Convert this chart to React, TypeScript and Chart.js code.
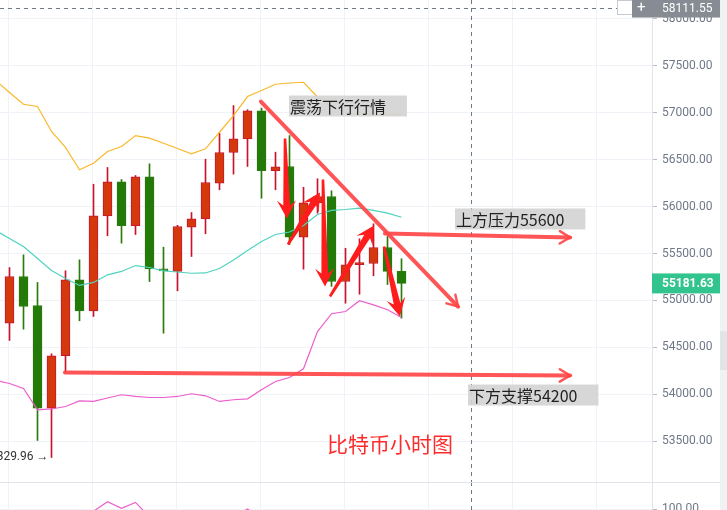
import React, { useEffect, useRef } from "react";
import { Chart, registerables } from "chart.js";

Chart.register(...registerables);

// ---- candle data (hourly BTC), index 0..28 ----
const OPEN = [54760, 55255, 54947, 53854, 54412, 55220, 54890, 55901, 56263, 55795, 56316, 55337, 55309, 55780, 55869, 56248, 56575, 56720, 57018, 56380, 56426, 55673, 56039, 56106, 55202, 55380, 55394, 55564, 55309];
const HIGH = [55350, 55486, 55192, 54433, 55316, 55433, 56237, 56415, 56287, 56330, 56454, 55567, 55800, 55936, 56503, 56780, 57074, 57030, 57046, 56578, 56755, 56205, 56295, 56167, 55556, 55656, 55816, 55681, 55444];
const LOW = [54575, 54695, 53511, 53329.96, 54234, 54784, 54830, 55688, 55610, 55702, 55202, 54652, 55103, 55468, 55710, 56178, 56344, 56426, 56088, 56178, 55596, 55333, 55929, 55150, 54971, 55067, 55263, 55170, 54812];
const CLOSE = [55255, 54936, 53854, 54412, 55220, 54890, 55901, 56263, 55795, 56316, 55337, 55316, 55787, 55869, 56255, 56575, 56720, 57018, 56380, 56422, 55673, 56039, 56106, 55202, 55380, 55404, 55564, 55309, 55181.63];

// ---- Bollinger bands, index -1..28 (first value is the bar just left of the view) ----
const BAND_START = -1;
const UPPER = [57343, 57213, 57088, 57064, 56798, 56628, 56390, 56461, 56585, 56638, 56755, 56727, 56673, 56617, 56561, 56614, 56790, 56968, 57170, 57234, 57301, 57314, 57322, 57165, 57059, 57000, 56979, 56976, 56976, 56979];
const MIDDLE = [55745, 55660, 55575, 55447, 55319, 55234, 55160, 55192, 55273, 55309, 55372, 55351, 55316, 55303, 55290, 55293, 55340, 55431, 55532, 55628, 55702, 55729, 55798, 55915, 55958, 55968, 55982, 55958, 55929, 55886];
const LOWER = [54149, 54117, 54064, 53837, 53846, 53872, 53931, 53926, 53963, 53997, 53979, 53968, 53968, 53979, 54008, 53986, 53926, 53944, 53954, 54050, 54138, 54181, 54273, 54670, 54859, 54883, 54997, 54954, 54901, 54819];

// ---- lower indicator panel (mostly below the visible strip) ----
const SUB_VALUES = [62, 58, 55, 60, 72, 84, 97, 110, 101, 109, 89, 78, 70, 74, 80, 86, 88, 100, 86, 72, 64, 66, 60, 52, 48, 50, 55, 52, 50];

// ---- axis ticks ----
const Y_TICKS = [53500, 54000, 54500, 55000, 55500, 56000, 56500, 57000, 57500, 58000];
const SUB_TICKS = [100];
const X_GRID = [-0.086, 5.914, 11.914, 17.914, 23.914, 29.914, 35.914, 41.914];

// ---- crosshair / markers ----
const CROSS_X = 32.93;
const CROSS_PRICE = 58111.55;
const LAST_PRICE = 55181.63;
const LOW_MARK_INDEX = 3;

// ---- hand-drawn annotations (bar index, price) ----
const GUIDE_LINES = [
  [[17.96, 57117], [32.04, 54936]],
  [[26.82, 55713], [40.04, 55670]],
  [[3.96, 54234], [40.04, 54202]],
];
const FAT_ARROWS = [
  [[19.68, 56723], [19.82, 55872]],
  [[19.89, 55596], [22.18, 56149]],
  [[22.39, 56287], [22.54, 55149]],
  [[22.89, 55043], [26.04, 55798]],
  [[26.75, 55574], [27.89, 54830]],
];
const BOX_LABELS = [
  { text: "震荡下行行情", x: 19.96, y: 57181 },
  { text: "上方压力55600", x: 31.82, y: 55979 },
  { text: "下方支撑54200", x: 32.75, y: 54106 },
];
const TITLE_TEXT = { text: "比特币小时图", x: 22.68, y: 53468 };

// ---- view range ----
const X_MIN = -9.5 / 14;
const X_MAX = X_MIN + 652 / 14;
const Y_MIN = 53069;
const Y_MAX = 58197;

const UP_FILL = "#d4380d";
const UP_LINE = "#c8142c";
const DOWN_FILL = "#237a08";
const DOWN_LINE = "#2a7a0c";
const GRID = "#eff2f7";
const AXIS = "#e0e3eb";
const TICK_TEXT = "#6f7888";
const FONT = "Roboto";

function fatArrow(ctx: CanvasRenderingContext2D, x1: number, y1: number, x2: number, y2: number) {
  const ang = Math.atan2(y2 - y1, x2 - x1);
  const L = Math.hypot(x2 - x1, y2 - y1);
  const hl = 18, hw = 9.5;
  ctx.save();
  ctx.translate(x1, y1);
  ctx.rotate(ang);
  ctx.beginPath();
  ctx.moveTo(0, -1.3);
  ctx.lineTo(L - hl + 5, -3.4);
  ctx.lineTo(L - hl, -hw);
  ctx.lineTo(L, 0);
  ctx.lineTo(L - hl, hw);
  ctx.lineTo(L - hl + 5, 3.4);
  ctx.lineTo(0, 1.3);
  ctx.closePath();
  ctx.fill();
  ctx.restore();
}

const mainPlugin = {
  id: "mainAnnotations",
  afterDatasetsDraw(chart: any) {
    const { ctx } = chart;
    const xs = chart.scales.x, ys = chart.scales.y;
    const X = (v: number) => xs.getPixelForValue(v);
    const Y = (v: number) => ys.getPixelForValue(v);
    ctx.save();
    // crosshair
    ctx.strokeStyle = "#6f7885";
    ctx.lineWidth = 1;
    ctx.setLineDash([4, 4]);
    const cx = Math.round(X(CROSS_X)) + 0.5;
    ctx.beginPath(); ctx.moveTo(cx, 0); ctx.lineTo(cx, chart.height); ctx.stroke();
    const cy = Math.round(Y(CROSS_PRICE)) + 0.5;
    ctx.beginPath(); ctx.moveTo(0, cy); ctx.lineTo(617, cy); ctx.stroke();
    ctx.setLineDash([]);

    // guide lines with open arrowheads
    ctx.strokeStyle = "rgba(255,70,72,0.92)";
    ctx.lineWidth = 4;
    ctx.lineCap = "round";
    for (const [[ax, ap], [bx, bp]] of GUIDE_LINES) {
      const x1 = X(ax), y1 = Y(ap), x2 = X(bx), y2 = Y(bp);
      ctx.beginPath(); ctx.moveTo(x1, y1); ctx.lineTo(x2, y2); ctx.stroke();
      const a = Math.atan2(y2 - y1, x2 - x1);
      ctx.lineWidth = 2.5;
      ctx.beginPath();
      ctx.moveTo(x2 + 12 * Math.cos(a + 2.6), y2 + 12 * Math.sin(a + 2.6));
      ctx.lineTo(x2, y2);
      ctx.lineTo(x2 + 12 * Math.cos(a - 2.6), y2 + 12 * Math.sin(a - 2.6));
      ctx.stroke();
      ctx.lineWidth = 4;
    }

    // fat red arrows
    ctx.fillStyle = "#ff1c1c";
    for (const [[ax, ap], [bx, bp]] of FAT_ARROWS) {
      fatArrow(ctx, X(ax), Y(ap), X(bx), Y(bp));
    }

    // boxed labels
    ctx.font = '16px "Noto Sans CJK SC"';
    ctx.textBaseline = "middle";
    ctx.textAlign = "left";
    for (const b of BOX_LABELS) {
      const bx = X(b.x), by = Y(b.y);
      const w = ctx.measureText(b.text).width;
      ctx.fillStyle = "rgba(212,212,212,0.92)";
      ctx.fillRect(bx, by, w + 22, 21);
      ctx.fillStyle = "#1f1f1f";
      ctx.fillText(b.text, bx + 1, by + 11);
    }

    // title
    ctx.font = '21px "Noto Sans CJK SC"';
    ctx.fillStyle = "#ff2b2b";
    ctx.fillText(TITLE_TEXT.text, X(TITLE_TEXT.x), Y(TITLE_TEXT.y));

    // low marker
    ctx.font = `12px ${FONT}`;
    ctx.fillStyle = "#333";
    ctx.textAlign = "right";
    const lx = X(LOW_MARK_INDEX), ly = Y(LOW[LOW_MARK_INDEX]);
    ctx.fillText(LOW[LOW_MARK_INDEX].toFixed(2) + " →", lx - 3, ly);
    ctx.restore();
  },
  afterDraw(chart: any) {
    const { ctx } = chart;
    const ys = chart.scales.y;
    const right = chart.chartArea.right;
    ctx.save();
    ctx.textBaseline = "middle";
    ctx.textAlign = "left";
    // crosshair price box
    const cy = ys.getPixelForValue(CROSS_PRICE);
    ctx.fillStyle = "#fff";
    ctx.strokeStyle = "#c5cad3";
    ctx.lineWidth = 1;
    ctx.fillRect(617.5, 0.5, 15, 14);
    ctx.strokeRect(617.5, 0.5, 15, 14);
    ctx.fillStyle = "#878b93";
    ctx.fillRect(632, cy - 9.5, 88, 19);
    ctx.fillStyle = "#fff";
    ctx.font = `15px ${FONT}`;
    ctx.fillText("+", 637, cy + 0.5);
    ctx.font = `12px ${FONT}`;
    ctx.fillText(CROSS_PRICE.toFixed(2), right + 10, cy + 0.5);
    // last price box
    const ly = ys.getPixelForValue(LAST_PRICE);
    ctx.fillStyle = "#31c48f";
    ctx.fillRect(right, ly - 10, 70, 20);
    ctx.fillStyle = "#fff";
    ctx.font = `bold 12px ${FONT}`;
    ctx.fillText(LAST_PRICE.toFixed(2), right + 10, ly + 0.5);
    ctx.restore();
  },
};

const subPlugin = {
  id: "subPanel",
  afterDatasetsDraw(chart: any) {
    const { ctx } = chart;
    const cx = Math.round(chart.scales.x.getPixelForValue(CROSS_X)) + 0.5;
    ctx.save();
    ctx.strokeStyle = "#6f7885";
    ctx.setLineDash([4, 4]);
    ctx.beginPath(); ctx.moveTo(cx, 0); ctx.lineTo(cx, chart.height); ctx.stroke();
    ctx.setLineDash([]);
    ctx.strokeStyle = AXIS;
    ctx.beginPath(); ctx.moveTo(0, 0.5); ctx.lineTo(chart.width, 0.5); ctx.stroke();
    ctx.restore();
  },
};

function xScale() {
  return {
    type: "linear",
    min: X_MIN,
    max: X_MAX,
    offset: false,
    display: true,
    grid: { color: GRID, drawTicks: false, offset: false },
    border: { display: false },
    ticks: { display: false },
    afterBuildTicks: (s: any) => { s.ticks = X_GRID.map((v) => ({ value: v })); },
    afterFit: (s: any) => { s.height = 0; s.paddingLeft = 0; s.paddingRight = 0; },
  };
}

function yScale(min: number, max: number, ticks: number[]) {
  return {
    type: "linear",
    position: "right",
    min,
    max,
    grid: { color: GRID, tickLength: 5, tickColor: "#b5bcc7" },
    border: { color: AXIS },
    ticks: {
      color: TICK_TEXT,
      font: { family: FONT, size: 12 },
      padding: 5,
      callback: (v: any) => Number(v).toFixed(2),
    },
    afterBuildTicks: (s: any) => { s.ticks = ticks.map((v) => ({ value: v })); },
    afterFit: (s: any) => { s.width = 75; s.paddingTop = 0; s.paddingBottom = 0; },
  };
}

export default function App() {
  const mainRef = useRef<HTMLCanvasElement>(null);
  const subRef = useRef<HTMLCanvasElement>(null);

  useEffect(() => {
    const idx = OPEN.map((_, i) => i);
    const up = (i: number) => CLOSE[i] >= OPEN[i];
    const band = (arr: number[], color: string) => ({
      type: "line",
      data: arr.map((v, k) => ({ x: k + BAND_START, y: v })),
      borderColor: color,
      borderWidth: 1.2,
      pointRadius: 0,
      tension: 0,
      order: 0,
    });
    const main = new Chart(mainRef.current as HTMLCanvasElement, {
      type: "bar",
      data: {
        datasets: [
          band(UPPER, "#f9b82a"),
          band(MIDDLE, "#4fd3bf"),
          band(LOWER, "#ec5fcb"),
          {
            type: "bar",
            data: idx.map((i) => ({ x: i, y: [OPEN[i], CLOSE[i]] })),
            backgroundColor: idx.map((i) => (up(i) ? UP_FILL : DOWN_FILL)),
            borderColor: idx.map((i) => (up(i) ? UP_LINE : DOWN_LINE)),
            borderWidth: 1,
            borderSkipped: false,
            barThickness: 9,
            minBarLength: 2,
            grouped: false,
            order: 1,
          },
          {
            type: "bar",
            data: idx.map((i) => ({ x: i, y: [LOW[i], HIGH[i]] })),
            backgroundColor: idx.map((i) => (up(i) ? UP_LINE : DOWN_LINE)),
            borderWidth: 0,
            barThickness: 1,
            grouped: false,
            order: 2,
          },
        ] as any,
      },
      options: {
        animation: false,
        responsive: false,
        maintainAspectRatio: false,
        events: [],
        layout: { padding: 0 },
        plugins: { legend: { display: false }, tooltip: { enabled: false } },
        scales: { x: xScale() as any, y: yScale(Y_MIN, Y_MAX, Y_TICKS) as any },
      },
      plugins: [mainPlugin],
    });

    const sub = new Chart(subRef.current as HTMLCanvasElement, {
      type: "line",
      data: {
        datasets: [
          {
            data: SUB_VALUES.map((v, i) => ({ x: i, y: v })),
            borderColor: "#ec5fcb",
            borderWidth: 1.2,
            pointRadius: 0,
            tension: 0,
          },
        ],
      },
      options: {
        animation: false,
        responsive: false,
        maintainAspectRatio: false,
        events: [],
        layout: { padding: 0 },
        plugins: { legend: { display: false }, tooltip: { enabled: false } },
        scales: { x: xScale() as any, y: yScale(0, 137, SUB_TICKS) as any },
      },
      plugins: [subPlugin],
    });

    return () => {
      main.destroy();
      sub.destroy();
    };
  }, []);

  return (
    <div style={{ position: "fixed", left: 0, top: 0, width: 727, height: 510, overflow: "hidden", background: "#fff" }}>
      <canvas ref={mainRef} width={727} height={482} style={{ position: "absolute", left: 0, top: 0, width: 727, height: 482 }} />
      <canvas ref={subRef} width={727} height={100} style={{ position: "absolute", left: 0, top: 482, width: 727, height: 100 }} />
      <div style={{ position: "absolute", left: 720, top: 0, width: 7, height: 510, background: "#f0f1f3" }} />
      <div style={{ position: "absolute", left: 720, top: 331, width: 7, height: 39, background: "#e2e4e8" }} />
    </div>
  );
}
